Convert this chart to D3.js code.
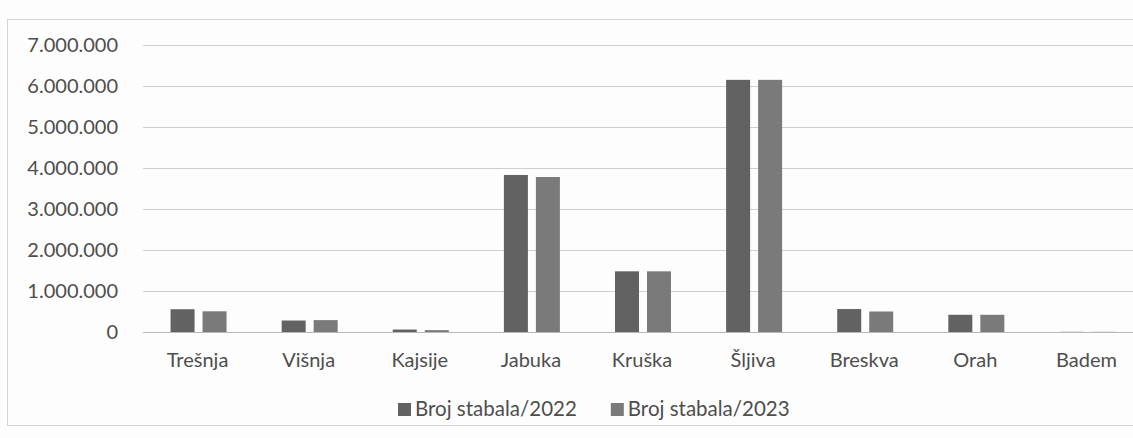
<!DOCTYPE html>
<html>
<head>
<meta charset="utf-8">
<script src="https://cdn.jsdelivr.net/npm/d3@7"></script>
<style>
  body { margin: 0; background: #fdfdfd; }
  svg { display: block; }
  text { font-family: Lato, "Open Sans", sans-serif; fill: #4e4e4e; }
</style>
</head>
<body>
<svg width="1133" height="438"></svg>
<script>
var categories = ["Trešnja", "Višnja", "Kajsije", "Jabuka", "Kruška", "Šljiva", "Breskva", "Orah", "Badem"];
var series = ["Broj stabala/2022", "Broj stabala/2023"];
var trees2022 = [555000, 280000, 60000, 3830000, 1480000, 6150000, 560000, 420000, 4000];
var trees2023 = [505000, 290000, 45000, 3780000, 1480000, 6150000, 500000, 420000, 4000];
var yTicks = [0, 1000000, 2000000, 3000000, 4000000, 5000000, 6000000, 7000000];

var colors = ["#626262", "#7a7a7a"];

var svg = d3.select("svg");
var width = 1133, height = 438;

// faint chart frame from the scan
svg.append("rect")
  .attr("x", 7.5).attr("y", 19.5)
  .attr("width", 1140).attr("height", 406)
  .attr("fill", "none")
  .attr("stroke", "#d4d4d4");

var x0 = d3.scaleBand().domain(categories).range([143, 1143]);
var x1 = d3.scaleBand().domain(series).range([0, 56]).paddingInner(0.25);
var y = d3.scaleLinear().domain([0, 7000000]).range([332, 45]);

var fmt = function(v) { return d3.format(",")(v).replace(/,/g, "."); };

// gridlines
svg.append("g")
  .selectAll("line")
  .data(yTicks)
  .enter().append("line")
    .attr("x1", 143).attr("x2", 1133)
    .attr("y1", function(d) { return y(d) + 0.5; })
    .attr("y2", function(d) { return y(d) + 0.5; })
    .attr("stroke", function(d) { return d == 0 ? "#b8b8b8" : "#cfcfcf"; })
    .attr("stroke-width", 1.2);

// y tick labels
svg.append("g")
  .selectAll("text")
  .data(yTicks)
  .enter().append("text")
    .attr("x", 118)
    .attr("y", function(d) { return y(d); })
    .attr("dy", "0.35em")
    .attr("text-anchor", "end")
    .style("font-size", "20px")
    .text(fmt);

// bars
var rows = categories.map(function(c, i) {
  return { cat: c, vals: [trees2022[i], trees2023[i]] };
});

var groups = svg.append("g")
  .selectAll("g")
  .data(rows)
  .enter().append("g")
    .attr("transform", function(d) {
      return "translate(" + (x0(d.cat) + (x0.bandwidth() - 56) / 2) + ",0)";
    });

groups.selectAll("rect")
  .data(function(d) {
    return d.vals.map(function(v, j) { return { s: series[j], v: v, j: j }; });
  })
  .enter().append("rect")
    .attr("x", function(d) { return x1(d.s); })
    .attr("width", x1.bandwidth())
    .attr("y", function(d) { return y(d.v); })
    .attr("height", function(d) { return y(0) - y(d.v); })
    .attr("fill", function(d) { return colors[d.j]; });

// category labels
svg.append("g")
  .selectAll("text")
  .data(categories)
  .enter().append("text")
    .attr("x", function(d) { return x0(d) + x0.bandwidth() / 2 - 1; })
    .attr("y", 360)
    .attr("dy", "0.35em")
    .attr("text-anchor", "middle")
    .style("font-size", "20px")
    .text(function(d) { return d; });

// legend
var legend = svg.append("g").attr("transform", "translate(398,409)");
var lx = 0;
series.forEach(function(s, i) {
  var item = legend.append("g").attr("transform", "translate(" + lx + ",0)");
  item.append("rect")
    .attr("x", 0).attr("y", -6)
    .attr("width", 13).attr("height", 13)
    .attr("fill", colors[i]);
  var t = item.append("text")
    .attr("x", 17).attr("dy", "0.35em")
    .style("font-size", "20.5px")
    .text(s);
  lx += 17 + t.node().getComputedTextLength() + 34;
});
</script>
</body>
</html>
